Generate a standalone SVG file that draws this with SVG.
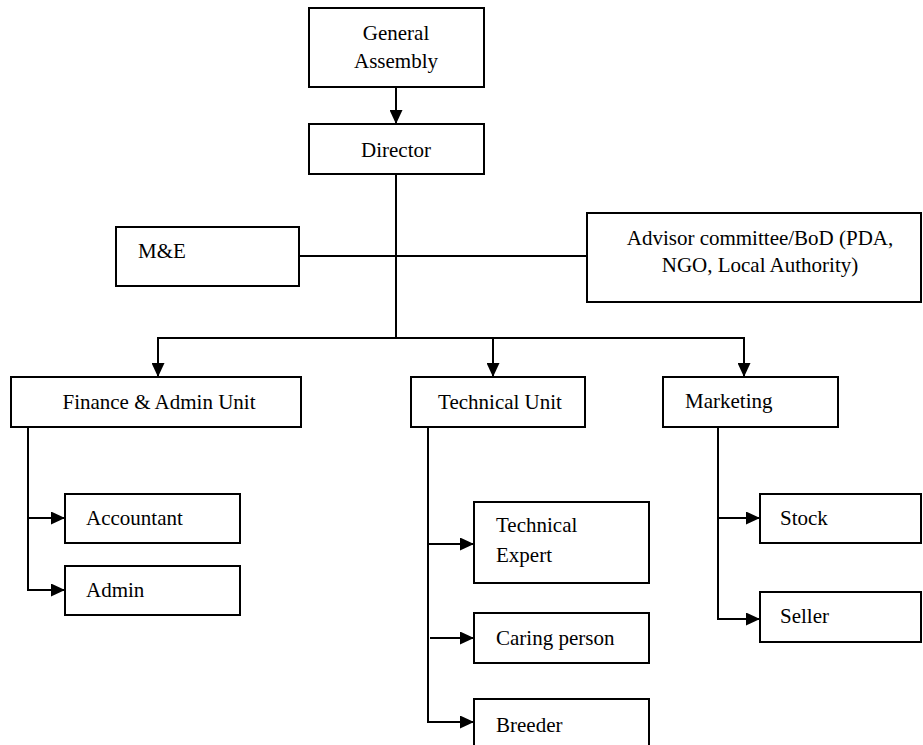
<svg xmlns="http://www.w3.org/2000/svg" width="923" height="745" viewBox="0 0 923 745">
<style>
.box{fill:#fff;stroke:#000;stroke-width:2}
.ln{fill:none;stroke:#000;stroke-width:2}
.ar{fill:none;stroke:#000;stroke-width:2;marker-end:url(#ah)}
text{font-family:"Liberation Serif","Times New Roman",serif;font-size:21px;fill:#000}
.c{text-anchor:middle}
</style>
<defs>
<marker id="ah" markerUnits="userSpaceOnUse" markerWidth="15" markerHeight="13" refX="14" refY="6.5" orient="auto">
<path d="M0,0 L14,6.5 L0,13 z" fill="#000"/>
</marker>
</defs>
<g id="connectors">
<line class="ar" x1="396" y1="87" x2="396" y2="124"/>
<line class="ln" x1="396" y1="174" x2="396" y2="338"/>
<line class="ln" x1="299" y1="256" x2="587" y2="256"/>
<line class="ln" x1="157" y1="338" x2="745" y2="338"/>
<line class="ar" x1="158" y1="338" x2="158" y2="377"/>
<line class="ar" x1="493" y1="338" x2="493" y2="377"/>
<line class="ar" x1="744" y1="338" x2="744" y2="377"/>
<line class="ln" x1="28" y1="427" x2="28" y2="591"/>
<line class="ar" x1="27" y1="518" x2="65" y2="518"/>
<line class="ar" x1="27" y1="590" x2="65" y2="590"/>
<line class="ln" x1="428" y1="427" x2="428" y2="723"/>
<line class="ar" x1="427" y1="544" x2="474" y2="544"/>
<line class="ar" x1="430" y1="638" x2="474" y2="638"/>
<line class="ar" x1="427" y1="722" x2="474" y2="722"/>
<line class="ln" x1="718" y1="427" x2="718" y2="620"/>
<line class="ar" x1="717" y1="518" x2="760" y2="518"/>
<line class="ar" x1="717" y1="619" x2="760" y2="619"/>
</g>
<g id="general-assembly">
<rect class="box" x="309" y="8" width="175" height="79"/>
<text class="c" x="396" y="40">General</text>
<text class="c" x="396" y="68">Assembly</text>
</g>
<g id="director">
<rect class="box" x="309" y="124" width="175" height="50"/>
<text class="c" x="396" y="157">Director</text>
</g>
<g id="me">
<rect class="box" x="116" y="227" width="183" height="59"/>
<text x="138" y="258">M&amp;E</text>
</g>
<g id="advisor">
<rect class="box" x="587" y="213" width="334" height="89"/>
<text class="c" x="760" y="245">Advisor committee/BoD (PDA,</text>
<text class="c" x="760" y="272">NGO, Local Authority)</text>
</g>
<g id="finance">
<rect class="box" x="11" y="377" width="290" height="50"/>
<text class="c" x="159" y="409">Finance &amp; Admin Unit</text>
</g>
<g id="technical">
<rect class="box" x="411" y="377" width="174" height="50"/>
<text class="c" x="500" y="409">Technical Unit</text>
</g>
<g id="marketing">
<rect class="box" x="663" y="377" width="175" height="50"/>
<text x="685" y="408">Marketing</text>
</g>
<g id="accountant">
<rect class="box" x="65" y="494" width="175" height="49"/>
<text x="86" y="525">Accountant</text>
</g>
<g id="admin">
<rect class="box" x="65" y="566" width="175" height="49"/>
<text x="86" y="597">Admin</text>
</g>
<g id="technical-expert">
<rect class="box" x="474" y="502" width="175" height="81"/>
<text x="496" y="532">Technical</text>
<text x="496" y="562">Expert</text>
</g>
<g id="caring-person">
<rect class="box" x="474" y="613" width="175" height="50"/>
<text x="496" y="645">Caring person</text>
</g>
<g id="breeder">
<rect class="box" x="474" y="699" width="175" height="60"/>
<text x="496" y="732">Breeder</text>
</g>
<g id="stock">
<rect class="box" x="760" y="494" width="161" height="49"/>
<text x="780" y="525">Stock</text>
</g>
<g id="seller">
<rect class="box" x="760" y="592" width="161" height="50"/>
<text x="780" y="623">Seller</text>
</g>
</svg>
